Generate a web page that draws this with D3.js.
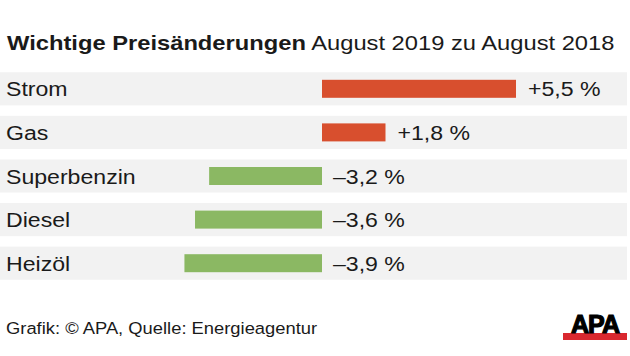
<!DOCTYPE html>
<html><head><meta charset="utf-8">
<script src="https://cdn.jsdelivr.net/npm/d3@7"></script>
<style>body{margin:0;background:#fff}svg{display:block}text{font-family:"Liberation Sans",Arial,sans-serif}</style>
</head><body>
<script>
const categories = ["Strom","Gas","Superbenzin","Diesel","Heizöl"];
const values = [5.5, 1.8, -3.2, -3.6, -3.9];
const valueLabels = ["+5,5 %","+1,8 %","–3,2 %","–3,6 %","–3,9 %"];
const titleBold = "Wichtige Preisänderungen";
const titleRest = " August 2019 zu August 2018";
const footer = "Grafik: © APA, Quelle: Energieagentur";

const W = 630, H = 356;
const svg = d3.select("body").append("svg").attr("width", W).attr("height", H);

const x = d3.scaleLinear().domain([0, 5.5]).range([322, 516]);
const y = d3.scaleBand().domain(categories).range([67, 285]).paddingInner(0.24).paddingOuter(0.12);

const t = svg.append("text").attr("transform", "translate(7,50) scale(1.13,1)").attr("font-size", 21).attr("fill", "#1a1a1a");
t.append("tspan").attr("font-weight", "bold").text(titleBold);
t.append("tspan").text(titleRest);

const rows = svg.append("g").selectAll("g").data(categories).join("g")
  .attr("transform", d => `translate(0,${y(d)})`);
rows.append("rect").attr("x", 0).attr("width", 627).attr("height", y.bandwidth()).attr("fill", "#f2f2f2");
rows.append("text").attr("transform", `translate(6,${y.bandwidth()/2 + 7.5}) scale(1.1,1)`)
  .attr("font-size", 21).attr("fill", "#1a1a1a").text(d => d);

const bh = 18;
rows.append("rect")
  .attr("x", (d,i) => Math.min(x(0), x(values[i])))
  .attr("width", (d,i) => Math.abs(x(values[i]) - x(0)))
  .attr("y", y.bandwidth()/2 - bh/2).attr("height", bh)
  .attr("fill", (d,i) => values[i] >= 0 ? "#d84f2e" : "#8bb863");
rows.append("text")
  .attr("transform", (d,i) => `translate(${values[i] >= 0 ? x(values[i]) + 12 : x(0) + 11},${y.bandwidth()/2 + 7.5}) scale(1.1,1)`)
  .attr("font-size", 21).attr("fill", "#1a1a1a")
  .text((d,i) => valueLabels[i]);

svg.append("text").attr("transform", "translate(6,334) scale(1.08,1)").attr("font-size", 17).attr("fill", "#1a1a1a").text(footer);

const logo = svg.append("g");
logo.append("rect").attr("x", 563).attr("y", 333).attr("width", 64).attr("height", 7).attr("fill", "#d9282f");
logo.append("text").attr("x", 595).attr("y", 333).attr("text-anchor", "middle")
  .attr("font-size", 25).attr("font-weight", "bold").attr("fill", "#000")
  .attr("stroke", "#000").attr("stroke-width", 1.2).attr("letter-spacing", -1).text("APA");
</script>
</body></html>
